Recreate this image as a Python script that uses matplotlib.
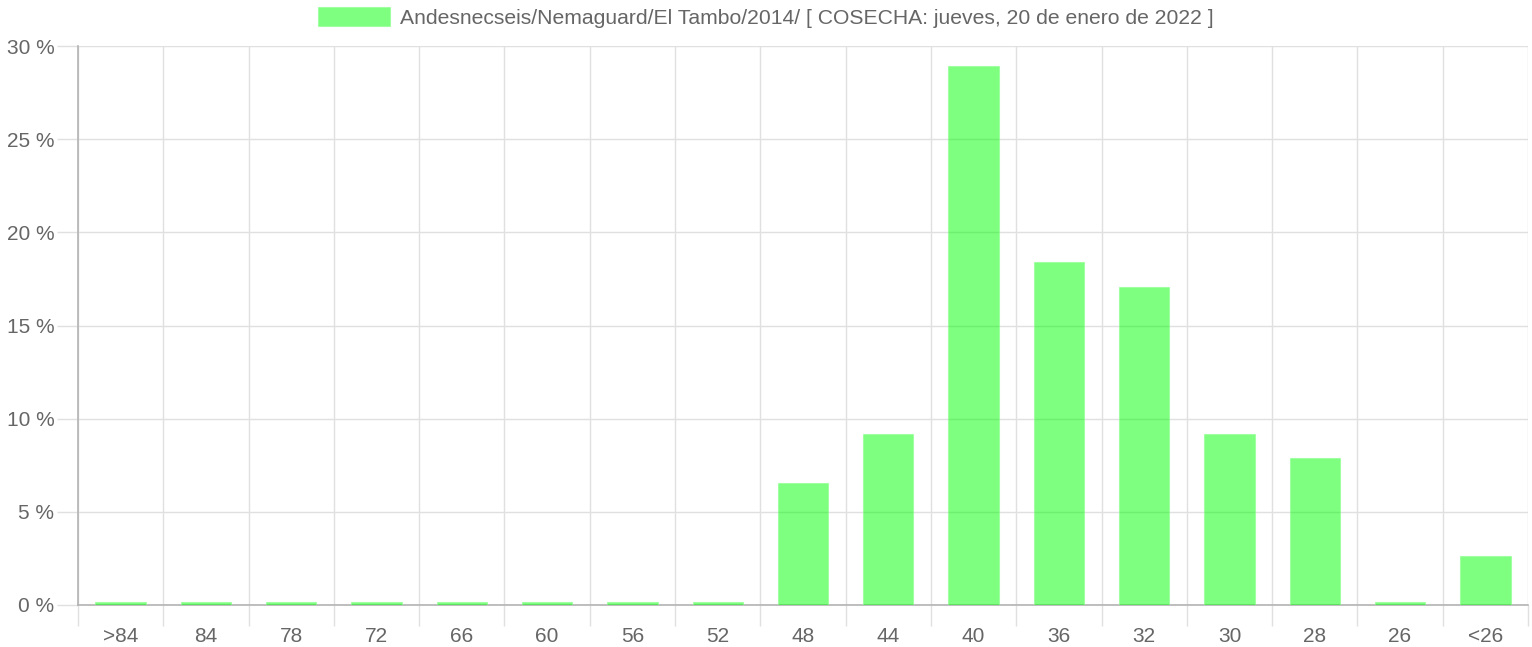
import matplotlib

matplotlib.use("Agg")
import matplotlib.pyplot as plt
from matplotlib.ticker import MultipleLocator, FuncFormatter

# calibres y porcentaje de fruta
calibres = [">84", "84", "78", "72", "66", "60", "56", "52", "48",
            "44", "40", "36", "32", "30", "28", "26", "<26"]
porcentaje = [0.15, 0.15, 0.15, 0.15, 0.15, 0.15, 0.15, 0.15, 6.55,
              9.18, 28.93, 18.41, 17.07, 9.18, 7.89, 0.15, 2.61]
etiqueta = "Andesnecseis/Nemaguard/El Tambo/2014/ [ COSECHA: jueves, 20 de enero de 2022 ]"

plt.rcParams["font.family"] = ["Liberation Sans", "DejaVu Sans"]
gris = "#666666"

fig = plt.figure(figsize=(15.32, 6.47), dpi=100)
ax = fig.add_axes([78 / 1532, 42 / 647, 1450 / 1532, 559 / 647])

x = range(len(calibres))
ax.bar(x, porcentaje, width=0.59, color=(0, 1, 0, 0.5),
       edgecolor=(0.55, 1, 0.55, 0.6), linewidth=0.8, zorder=3, label=etiqueta)

ax.set_xlim(-0.5, len(calibres) - 0.5)
ax.set_ylim(0, 30)
ax.yaxis.set_major_locator(MultipleLocator(5))
ax.yaxis.set_major_formatter(FuncFormatter(lambda v, _: f"{v:.0f} %"))
ax.set_xticks(list(x), calibres)
ax.set_xticks([i - 0.5 for i in range(len(calibres) + 1)], minor=True)

ax.grid(True, axis="y", which="major", color="#e0e0e0", linewidth=1, zorder=0)
ax.grid(True, axis="x", which="minor", color="#e0e0e0", linewidth=1, zorder=0)
ax.tick_params(axis="x", which="major", length=0, pad=16, labelsize=15, labelcolor=gris)
ax.tick_params(axis="x", which="minor", length=15, color="#e0e0e0", width=1)
ax.tick_params(axis="y", length=15, color="#e0e0e0", width=1, pad=2,
               labelsize=15, labelcolor=gris)

for lado in ["top", "right"]:
    ax.spines[lado].set_visible(False)
for lado in ["left", "bottom"]:
    ax.spines[lado].set_color("#b3b3b3")
    ax.spines[lado].set_linewidth(1.2)

fig.legend(loc="upper center", bbox_to_anchor=(0.5, 1.018), frameon=False,
           fontsize=15.2, labelcolor=gris, handlelength=3.4, handleheight=1.0,
           handletextpad=0.5)

fig.savefig("out.png", dpi=100)
